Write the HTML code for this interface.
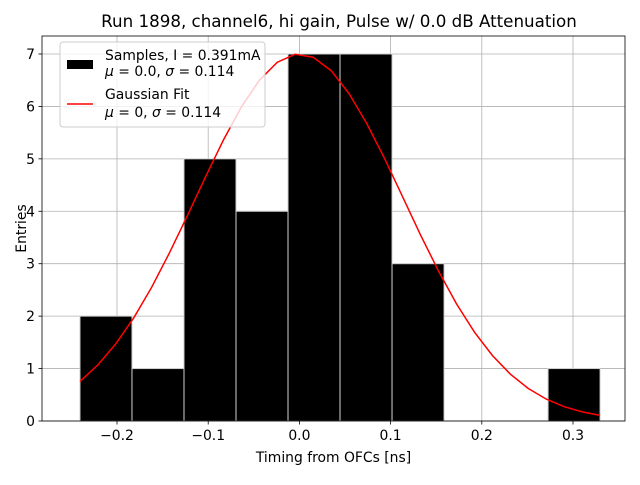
<!DOCTYPE html>
<html><head><meta charset="utf-8"><style>
body{margin:0;background:#fff;font-family:"Liberation Sans","DejaVu Sans",sans-serif}
text{font-family:"DejaVu Sans","Liberation Sans",sans-serif}
</style></head><body>
<svg id="chart" width="640" height="480" xmlns="http://www.w3.org/2000/svg"></svg>
<script>
const binEdgesStart = -0.2406;
const binWidth = 0.05703;
const counts = [2,1,5,4,7,7,3,0,0,1];
const xTicks = [-0.2,-0.1,0.0,0.1,0.2,0.3];
const xTickLabels = ["−0.2","−0.1","0.0","0.1","0.2","0.3"];
const yTicks = [0,1,2,3,4,5,6,7];
const fitMu = [0];
const fitSigma = [0.114];
const fitAmp = [7];
const fitRange = [-0.2406, 0.3297];

const svg = document.getElementById('chart');
const NS = 'http://www.w3.org/2000/svg';
const L=42,R=625,T=36,B=421;
const FS=13.9;
const xs = v => 299.4 + v*912;
const ys = v => B - v*52.43;
function mk(tag, attrs, parent){const e=document.createElementNS(NS,tag);for(const k in attrs)e.setAttribute(k,attrs[k]);(parent||svg).appendChild(e);return e;}

const grid = mk('g',{});


xTicks.forEach(t=>mk('line',{x1:xs(t),x2:xs(t),y1:T,y2:B,stroke:'#b0b0b0','stroke-width':0.8},grid));
yTicks.forEach(t=>mk('line',{x1:L,x2:R,y1:ys(t),y2:ys(t),stroke:'#b0b0b0','stroke-width':0.8},grid));

const bars = mk('g',{});


counts.forEach((c,i)=>{
  if(c<=0) return;
  const x0=xs(binEdgesStart+i*binWidth), x1=xs(binEdgesStart+(i+1)*binWidth);
  const r = mk('rect',{x:x0,y:ys(c),width:x1-x0,height:ys(0)-ys(c),fill:'#000',stroke:'#d0d0d0','stroke-width':1},bars);
  
  
});

let pts=[];
const N=30;
for(let i=0;i<N;i++){
  const x=fitRange[0]+(fitRange[1]-fitRange[0])*i/(N-1);
  const y=fitAmp[0]*Math.exp(-0.5*Math.pow((x-fitMu[0])/fitSigma[0],2));
  pts.push(xs(x).toFixed(1)+','+ys(y).toFixed(1));
}
const fit = mk('polyline',{points:pts.join(' '),fill:'none',stroke:'#ff0000','stroke-width':1.5});



const frame = mk('rect',{x:L,y:T,width:R-L,height:B-T,fill:'none',stroke:'#000','stroke-width':0.8});



xTicks.forEach((t,i)=>{
  mk('line',{x1:xs(t),x2:xs(t),y1:B,y2:B+3.5,stroke:'#000','stroke-width':0.8});
  const tx=mk('text',{x:xs(t),y:B+19,'font-size':FS,'text-anchor':'middle'});
  tx.textContent=xTickLabels[i];
  
  
});
yTicks.forEach(t=>{
  mk('line',{x1:L-3.5,x2:L,y1:ys(t),y2:ys(t),stroke:'#000','stroke-width':0.8});
  const tx=mk('text',{x:L-7,y:ys(t)+5,'font-size':FS,'text-anchor':'end'});
  tx.textContent=t;
  
  
});

const xt=mk('text',{x:333.5,y:462,'font-size':FS,'text-anchor':'middle'});
xt.textContent='Timing from OFCs [ns]';


const yt=mk('text',{x:26,y:228.5,'font-size':FS,'text-anchor':'middle',transform:'rotate(-90 26 228.5)'});
yt.textContent='Entries';


const tt=mk('text',{x:339,y:27,'font-size':16.7,'text-anchor':'middle'});
tt.textContent='Run 1898, channel6, hi gain, Pulse w/ 0.0 dB Attenuation';



const lg=mk('g',{});


mk('rect',{x:60,y:42,width:205,height:85,rx:3,fill:'#fff','fill-opacity':0.8,stroke:'#ccc','stroke-width':1},lg);
const e1=mk('rect',{x:67,y:60,width:26,height:9,fill:'#000'},lg);


const l1=mk('text',{x:105,y:60,'font-size':FS},lg);l1.textContent='Samples, I = 0.391mA';
const l2=mk('text',{x:105,y:76,'font-size':FS},lg);l2.innerHTML='<tspan font-style="italic">μ</tspan> = 0.0, <tspan font-style="italic">σ</tspan> = 0.114';
const e2=mk('line',{x1:67,x2:93,y1:104,y2:104,stroke:'#ff0000','stroke-width':1.5},lg);


const l3=mk('text',{x:105,y:99,'font-size':FS},lg);l3.textContent='Gaussian Fit';
const l4=mk('text',{x:105,y:117,'font-size':FS},lg);l4.innerHTML='<tspan font-style="italic">μ</tspan> = 0, <tspan font-style="italic">σ</tspan> = 0.114';
</script>
</body></html>
